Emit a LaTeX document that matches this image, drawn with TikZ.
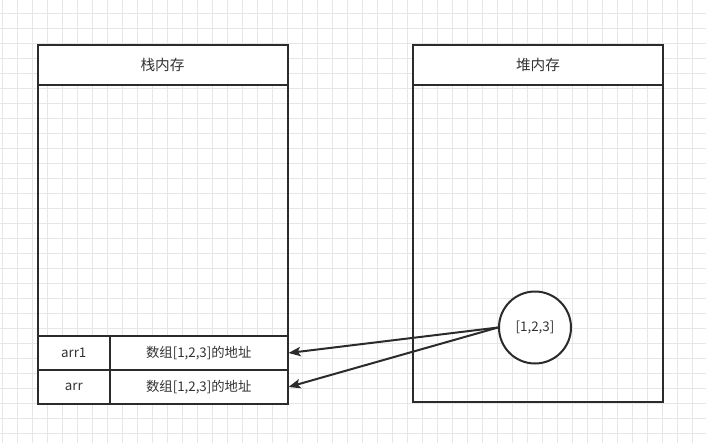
\documentclass[tikz,border=0pt]{standalone}
\usepackage{fontspec}
\setmainfont{Noto Sans CJK SC}
\usetikzlibrary{arrows.meta}
\definecolor{gridc}{HTML}{E6E6E6}
\definecolor{linec}{HTML}{2B2B2B}
\definecolor{textc}{HTML}{333333}
\tikzset{
  box/.style={draw=linec, line width=1.5pt, inner sep=0pt, text=textc},
  hdr/.style={box, fill=white, minimum width=187.5pt, minimum height=30pt, font=\fontsize{11pt}{13pt}\selectfont},
  body/.style={box, minimum width=187.5pt},
  cell/.style={box, fill=white, minimum height=25.5pt, font=\fontsize{10pt}{12pt}\selectfont},
  val/.style={circle, draw=linec, line width=1.5pt, fill=white, minimum size=54pt, inner sep=0pt, text=textc, font=\fontsize{10pt}{12pt}\selectfont},
  arr/.style={draw=linec, line width=1.5pt, -{Stealth[length=9pt, width=7pt, inset=2pt]}}
}
\begin{document}
\begin{tikzpicture}[x=0.75pt, y=-0.75pt]
\useasboundingbox (0,0) rectangle (706,443);
\fill[white] (0,0) rectangle (706,443);
\foreach \i in {2,17,...,692} \draw[gridc, line width=0.75pt] (\i,0) -- (\i,443);
\foreach \j in {13,28,...,433} \draw[gridc, line width=0.75pt] (0,\j) -- (706,\j);
% stack
\node[body, minimum height=188.25pt] (sbody) at (162.5,210.5) {};
\node[hdr] (shdr) at (162.5,65) {栈内存};
\node[cell, minimum width=54.375pt] (k1) at (73.75,353) {arr1};
\node[cell, minimum width=133.125pt] (v1) at (198.75,353) {数组[1,2,3]的地址};
\node[cell, minimum width=54.375pt] (k2) at (73.75,387) {arr};
\node[cell, minimum width=133.125pt] (v2) at (198.75,387) {数组[1,2,3]的地址};
% heap
\node[body, minimum height=237.75pt] (hbody) at (538,243.5) {};
\node[hdr] (hhdr) at (538,65) {堆内存};
\node[val] (c) at (535,327.5) {[1,2,3]};
% arrows
\draw[arr] (c.west) -- (v1.east);
\draw[arr] (c.west) -- (v2.east);
\end{tikzpicture}
\end{document}
